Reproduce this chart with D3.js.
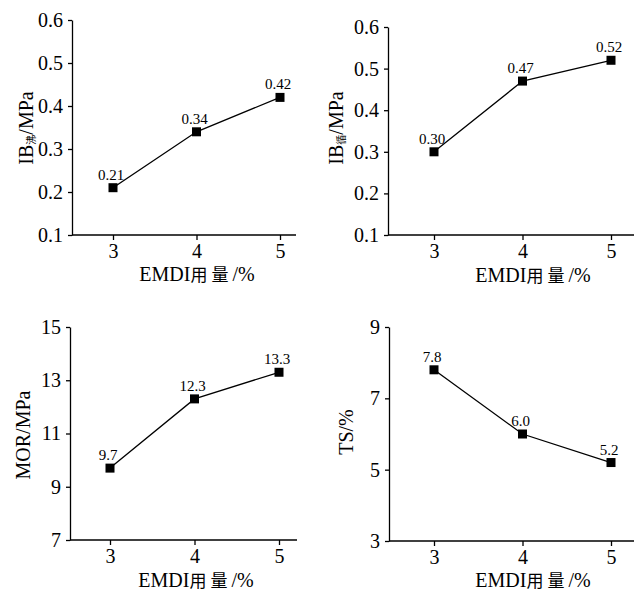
<!DOCTYPE html>
<html>
<head>
<meta charset="utf-8">
<script src="https://cdn.jsdelivr.net/npm/d3@7"></script>
<style>
  body { margin: 0; background: #fff; }
</style>
</head>
<body>
<svg width="634" height="591"></svg>
<script>
// data
var dosage = [3, 4, 5];
var ibBoil = [0.21, 0.34, 0.42];
var ibCycle = [0.30, 0.47, 0.52];
var mor = [9.7, 12.3, 13.3];
var ts = [7.8, 6.0, 5.2];

// tick labels
var ibTicks = [0.1, 0.2, 0.3, 0.4, 0.5, 0.6];
var morTicks = [7, 9, 11, 13, 15];
var tsTicks = [3, 5, 7, 9];

var SERIF = "'Liberation Serif', 'Times New Roman', serif";
var CJK = "'Noto Sans CJK SC', sans-serif";

// panel layout
var panels = [
  {vals: ibBoil, ticks: ibTicks, tf: ".1f", lf: ".2f", name: "IB", sub: "沸", unit: "/MPa",
   ax: 72, top: 20, bottom: 235, x3: 113, x5: 280, end: 296, ty: 33, tyc: 128, txc: 197, tb: 281},
  {vals: ibCycle, ticks: ibTicks, tf: ".1f", lf: ".2f", name: "IB", sub: "循", unit: "/MPa",
   ax: 388, top: 27, bottom: 235, x3: 434, x5: 611, end: 634, ty: 343, tyc: 128, txc: 533, tb: 282},
  {vals: mor, ticks: morTicks, tf: "d", lf: ".1f", name: "MOR/MPa", sub: "", unit: "",
   ax: 70, top: 327, bottom: 540, x3: 110, x5: 279, end: 297, ty: 30, tyc: 435, txc: 196, tb: 587},
  {vals: ts, ticks: tsTicks, tf: "d", lf: ".1f", name: "TS/%", sub: "", unit: "",
   ax: 389, top: 327, bottom: 541, x3: 434, x5: 611, end: 634, ty: 353, tyc: 432, txc: 533, tb: 587}
];

var svg = d3.select("svg");

panels.forEach(function(p){
  var g = svg.append("g");
  var tmin = d3.min(p.ticks), tmax = d3.max(p.ticks);

  var x = d3.scaleLinear().domain([3, 5]).range([p.x3, p.x5]);
  var y = d3.scaleLinear().domain([tmin, tmax]).range([p.bottom, p.top]);

  // y axis
  g.append("g")
      .attr("transform", "translate(" + p.ax + ",0)")
      .call(d3.axisLeft(y).tickValues(p.ticks).tickFormat(d3.format(p.tf))
        .tickSize(4).tickSizeOuter(0).tickPadding(5));

  // x axis
  var xAxis = g.append("g")
      .attr("transform", "translate(0," + p.bottom + ")")
      .call(d3.axisBottom(x).tickValues(dosage).tickFormat(d3.format("d"))
        .tickSize(5).tickSizeOuter(0).tickPadding(4));
  xAxis.select(".domain").remove();
  xAxis.append("line")
      .attr("x1", p.ax).attr("x2", p.end)
      .attr("stroke", "#000").attr("stroke-width", 1.3);

  g.selectAll(".tick text")
      .style("font-family", SERIF)
      .style("font-size", "20px")
      .attr("fill", "#000");
  g.selectAll(".tick line, .domain").attr("stroke", "#000").attr("stroke-width", 1.3);

  // x title
  var xt = g.append("text")
      .attr("x", p.txc).attr("y", p.tb)
      .attr("text-anchor", "middle")
      .style("font-family", SERIF)
      .style("font-size", "20px");
  xt.append("tspan").style("font-family", SERIF).text("EMDI");
  xt.append("tspan").style("font-family", CJK).style("font-size", "17px")
      .attr("letter-spacing", 4).text("用量");
  xt.append("tspan").style("font-family", SERIF).text("/%");

  // y title
  var yt = g.append("text")
      .attr("transform", "translate(" + p.ty + "," + p.tyc + ") rotate(-90)")
      .attr("text-anchor", "middle")
      .style("font-family", SERIF)
      .style("font-size", "20px");
  yt.append("tspan").style("font-family", SERIF).text(p.name);
  if (p.sub) {
    yt.append("tspan").style("font-family", CJK).style("font-size", "10px")
        .attr("dy", 2).text(p.sub);
    yt.append("tspan").style("font-family", SERIF).attr("dy", -2).text(p.unit);
  }

  // line
  var line = d3.line()
      .x(function(d, i){ return x(dosage[i]); })
      .y(function(d){ return y(d); });

  g.append("path")
      .datum(p.vals)
      .attr("d", line)
      .attr("fill", "none")
      .attr("stroke", "#000")
      .attr("stroke-width", 1.3);

  // markers
  g.selectAll("rect.pt")
      .data(p.vals)
      .enter()
      .append("rect")
      .attr("class", "pt")
      .attr("x", function(d, i){ return x(dosage[i]) - 4.5; })
      .attr("y", function(d){ return y(d) - 4.5; })
      .attr("width", 9)
      .attr("height", 9)
      .attr("fill", "#000");

  // value labels
  g.selectAll("text.lbl")
      .data(p.vals)
      .enter()
      .append("text")
      .attr("class", "lbl")
      .attr("x", function(d, i){ return x(dosage[i]) - 2; })
      .attr("y", function(d){ return y(d) - 8; })
      .attr("text-anchor", "middle")
      .style("font-family", SERIF)
      .style("font-size", "15px")
      .text(function(d){ return d3.format(p.lf)(d); });
});
</script>
</body>
</html>
